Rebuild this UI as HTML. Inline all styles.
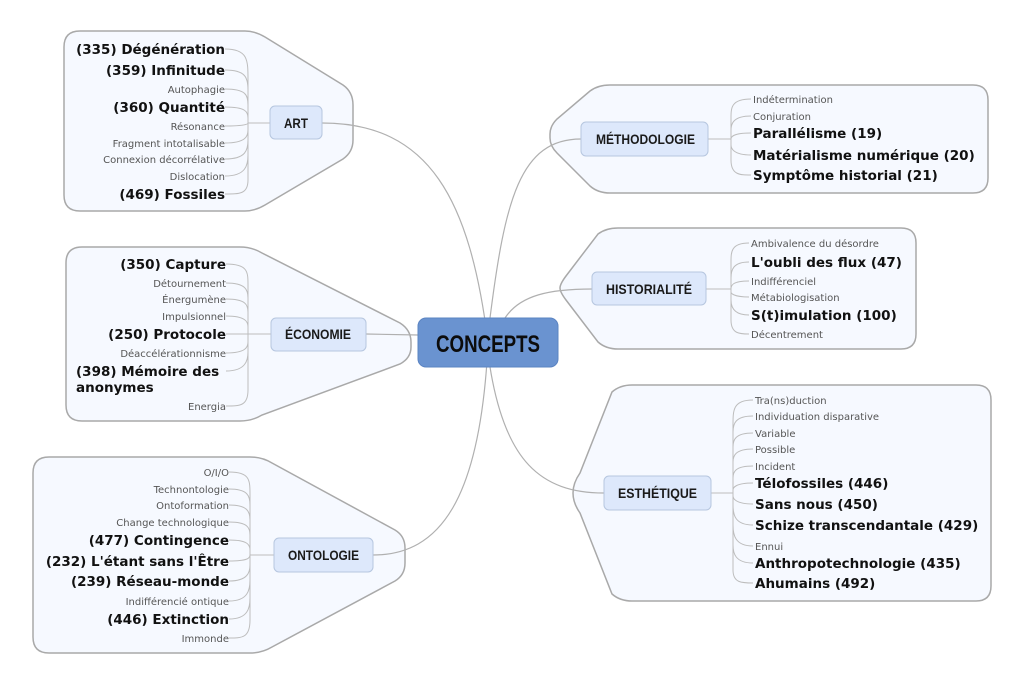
<!DOCTYPE html>
<html><head><meta charset="utf-8"><style>
body{margin:0;background:#fff}
svg{display:block}
.b{font:bold 13.5px "DejaVu Sans","Liberation Sans",sans-serif;fill:#111}
.s{font:10px "DejaVu Sans","Liberation Sans",sans-serif;fill:#555}
.t{font:bold 14px "Liberation Sans Narrow","Liberation Sans",sans-serif;fill:#1a1a1a}
.bd{fill:#f6f9ff;stroke:#a9a9a9;stroke-width:1.5}
.tp{fill:#dde8fb;stroke:#b6c6df;stroke-width:1}
.l{fill:none;stroke:#bdbdbd;stroke-width:1}
.c{fill:none;stroke:#b0b0b0;stroke-width:1.2}
</style></head><body>
<svg width="1024" height="686" viewBox="0 0 1024 686" xmlns="http://www.w3.org/2000/svg">
<path class="bd" d="M80,31 H245 Q255,31 265,37 L343,85 Q353,92 353,105 V140 Q353,152 343,159 L265,205 Q255,211 245,211 H80 Q64,211 64,195 V47 Q64,31 80,31Z"/>
<path class="bd" d="M82,247 H240 Q252,247 262,253 L400,323 Q411,330 411,342 V347 Q411,358 400,364 L262,415 Q252,421 240,421 H82 Q66,421 66,405 V263 Q66,247 82,247Z"/>
<path class="bd" d="M49,457 H250 Q262,457 272,463 L395,530 Q405,536 405,548 V563 Q405,575 395,581 L272,647 Q262,653 250,653 H49 Q33,653 33,637 V473 Q33,457 49,457Z"/>
<path class="bd" d="M610,85 H973 Q988,85 988,100 V178 Q988,193 973,193 H610 Q598,193 590,186 L557,153 Q550,146 550,138 V134 Q550,126 557,119 L590,91 Q598,85 610,85Z"/>
<path class="bd" d="M618,228 H901 Q916,228 916,243 V334 Q916,349 901,349 H618 Q606,349 598,342 L566,300 Q560,292 560,288 Q560,284 566,276 L598,234 Q606,228 618,228Z"/>
<path class="bd" d="M632,385 H976 Q991,385 991,400 V586 Q991,601 976,601 H632 Q620,601 612,594 L580,513 Q573,503 573,493 Q573,483 580,473 L612,392 Q620,385 632,385Z"/>
<path class="c" d="M488,342 C470,200 430,123 322,123"/>
<path class="c" d="M418,335 L366,334"/>
<path class="c" d="M488,345 C480,500 440,555 373,555"/>
<path class="c" d="M490,318 C505,200 520,139 581,139"/>
<path class="c" d="M505,318 C520,295 550,289 592,289"/>
<path class="c" d="M490,367 C505,460 540,493 604,493"/>
<g class="l">
<path d="M270,123 H248 M225,49 C248,49 248,60 248,80 V180 C248,194 240,194 225,194 M225,70 C246,70 248,78 248,90 M225,89 C246,89 248,95 248,105 M225,107 C246,107 248,112 248,118 M225,126 C246,126 248,124 248,123 M225,143 C246,143 248,136 248,130 M225,159 C246,159 248,150 248,140 M225,176 C246,176 248,165 248,155"/>
<path d="M271,334 H248 M226,264 C248,264 248,272 248,285 V390 C248,406 240,406 226,406 M226,283 C246,283 248,290 248,298 M226,299 C246,299 248,305 248,312 M226,316 C246,316 248,322 248,327 M226,334 H248 M226,353 C246,353 248,347 248,342 M226,371 C246,371 248,360 248,352"/>
<path d="M274,555 H250 M229,472 C250,472 250,480 250,495 V620 C250,638 242,638 229,638 M229,489 C248,489 250,496 250,505 M229,505 C248,505 250,512 250,520 M229,522 C248,522 250,528 250,535 M229,540 C248,540 250,545 250,550 M229,561 C248,561 250,558 250,555 M229,581 C248,581 250,572 250,565 M229,601 C248,601 250,590 250,580 M229,619 C248,619 250,608 250,598"/>
<path d="M708,139 H731 M751,99 C731,99 731,108 731,118 V160 C731,175 740,175 751,175 M751,116 C733,116 731,124 731,130 M751,133 C733,133 731,137 731,139 M751,155 C733,155 731,148 731,145"/>
<path d="M706,289 H731 M749,243 C731,243 731,252 731,262 V320 C731,334 740,334 749,334 M749,262 C733,262 731,270 731,278 M749,281 C733,281 731,285 731,289 M749,297 C733,297 731,293 731,292 M749,315 C733,315 731,306 731,300"/>
<path d="M711,493 H733 M753,400 C733,400 733,410 733,425 V570 C733,583 742,583 753,583 M753,416 C735,416 733,424 733,432 M753,433 C735,433 733,440 733,447 M753,449 C735,449 733,456 733,462 M753,466 C735,466 733,472 733,478 M753,483 C735,483 733,488 733,490 M753,504 C735,504 733,498 733,496 M753,525 C735,525 733,515 733,505 M753,546 C735,546 733,535 733,525 M753,563 C735,563 733,553 733,545"/>
</g>
<rect x="418" y="318" width="140" height="49" rx="8" fill="#6a93d0" stroke="#5b84c2"/>
<text x="436" y="352" textLength="104" lengthAdjust="spacingAndGlyphs" style="font:bold 24px 'Liberation Sans Narrow','Liberation Sans',sans-serif;fill:#0c0c0c">CONCEPTS</text>
<rect class="tp" x="270" y="106" width="52" height="33" rx="5"/><text class="t" x="284" y="128" textLength="24" lengthAdjust="spacingAndGlyphs">ART</text>
<rect class="tp" x="271" y="318" width="95" height="33" rx="5"/><text class="t" x="285" y="339" textLength="66" lengthAdjust="spacingAndGlyphs">ÉCONOMIE</text>
<rect class="tp" x="274" y="538" width="99" height="34" rx="5"/><text class="t" x="288" y="560" textLength="71" lengthAdjust="spacingAndGlyphs">ONTOLOGIE</text>
<rect class="tp" x="581" y="122" width="127" height="34" rx="5"/><text class="t" x="596" y="144" textLength="99" lengthAdjust="spacingAndGlyphs">MÉTHODOLOGIE</text>
<rect class="tp" x="592" y="272" width="114" height="33" rx="5"/><text class="t" x="606" y="294" textLength="86" lengthAdjust="spacingAndGlyphs">HISTORIALITÉ</text>
<rect class="tp" x="604" y="476" width="107" height="34" rx="5"/><text class="t" x="618" y="498" textLength="79" lengthAdjust="spacingAndGlyphs">ESTHÉTIQUE</text>
<g text-anchor="end">
<text class="b" x="225" y="54">(335) Dégénération</text>
<text class="b" x="225" y="75">(359) Infinitude</text>
<text class="s" x="225" y="93">Autophagie</text>
<text class="b" x="225" y="112">(360) Quantité</text>
<text class="s" x="225" y="130">Résonance</text>
<text class="s" x="225" y="147">Fragment intotalisable</text>
<text class="s" x="225" y="163">Connexion décorrélative</text>
<text class="s" x="225" y="180">Dislocation</text>
<text class="b" x="225" y="199">(469) Fossiles</text>
<text class="b" x="226" y="269">(350) Capture</text>
<text class="s" x="226" y="287">Détournement</text>
<text class="s" x="226" y="303">Énergumène</text>
<text class="s" x="226" y="320">Impulsionnel</text>
<text class="b" x="226" y="339">(250) Protocole</text>
<text class="s" x="226" y="357">Déaccélérationnisme</text>
<text class="s" x="226" y="410">Energia</text>
<text class="s" x="229" y="476">O/I/O</text>
<text class="s" x="229" y="493">Technontologie</text>
<text class="s" x="229" y="509">Ontoformation</text>
<text class="s" x="229" y="526">Change technologique</text>
<text class="b" x="229" y="545">(477) Contingence</text>
<text class="b" x="229" y="566">(232) L'étant sans l'Être</text>
<text class="b" x="229" y="586">(239) Réseau-monde</text>
<text class="s" x="229" y="605">Indifférencié ontique</text>
<text class="b" x="229" y="624">(446) Extinction</text>
<text class="s" x="229" y="642">Immonde</text>
</g>
<text class="b" x="76" y="376">(398) Mémoire des</text>
<text class="b" x="76" y="392">anonymes</text>
<text class="s" x="753" y="103">Indétermination</text>
<text class="s" x="753" y="120">Conjuration</text>
<text class="b" x="753" y="138">Parallélisme (19)</text>
<text class="b" x="753" y="160">Matérialisme numérique (20)</text>
<text class="b" x="753" y="180">Symptôme historial (21)</text>
<text class="s" x="751" y="247">Ambivalence du désordre</text>
<text class="b" x="751" y="267">L'oubli des flux (47)</text>
<text class="s" x="751" y="285">Indifférenciel</text>
<text class="s" x="751" y="301">Métabiologisation</text>
<text class="b" x="751" y="320">S(t)imulation (100)</text>
<text class="s" x="751" y="338">Décentrement</text>
<text class="s" x="755" y="404">Tra(ns)duction</text>
<text class="s" x="755" y="420">Individuation disparative</text>
<text class="s" x="755" y="437">Variable</text>
<text class="s" x="755" y="453">Possible</text>
<text class="s" x="755" y="470">Incident</text>
<text class="b" x="755" y="488">Télofossiles (446)</text>
<text class="b" x="755" y="509">Sans nous (450)</text>
<text class="b" x="755" y="530">Schize transcendantale (429)</text>
<text class="s" x="755" y="550">Ennui</text>
<text class="b" x="755" y="568">Anthropotechnologie (435)</text>
<text class="b" x="755" y="588">Ahumains (492)</text>
</svg>
</body></html>
